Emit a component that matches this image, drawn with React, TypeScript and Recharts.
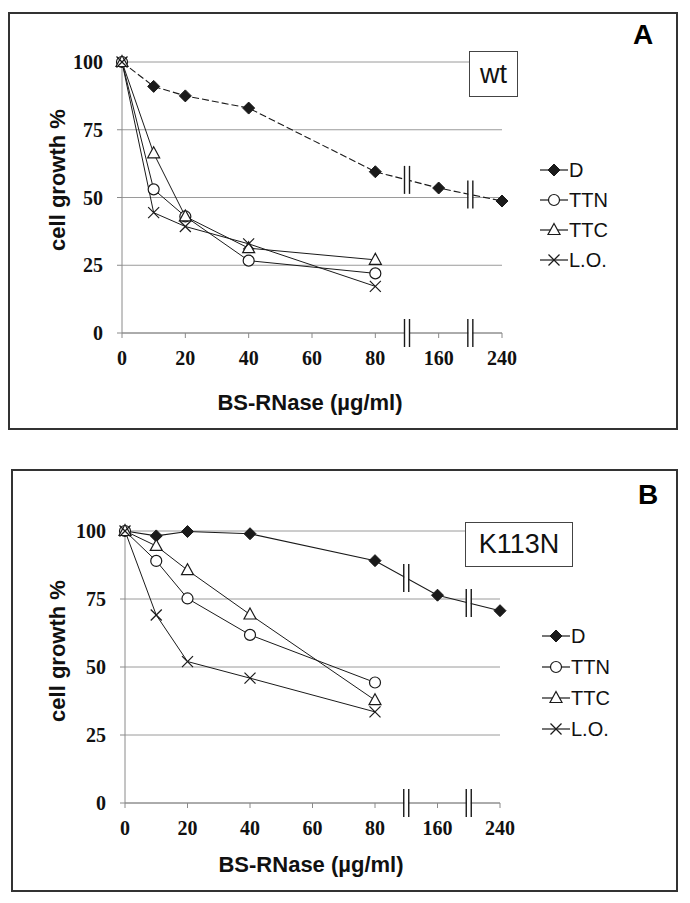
import React from "react";
import { LineChart, Line, XAxis, YAxis, CartesianGrid, ReferenceDot } from "recharts";

// Doses (µg/ml) and tick labels
const doses = [0, 10, 20, 40, 80, 160, 240];
const xTickLabels = ["0", "20", "40", "60", "80", "160", "240"];
const yTicks = [0, 25, 50, 75, 100];

// Panel A (wt)
const dA = [100, 91, 87.5, 83, 59.5, 53.5, 48.7];
const ttnA = [100, 53, 43, 26.7, 22];
const ttcA = [100, 66.3, 43, 31.3, 27];
const loA = [100, 44.4, 39.3, 32.9, 17.2];

// Panel B (K113N)
const dB = [100, 98.2, 99.8, 99, 89.1, 76.4, 70.7];
const ttnB = [100, 89, 75.2, 61.8, 44.3];
const ttcB = [100, 94.5, 85.6, 69.3, 37.8];
const loB = [100, 69.1, 52, 45.9, 33.5];

const seriesNames = ["D", "TTN", "TTC", "L.O."];

// broken axis: 0..80 linear, then 160 and 240 one step each
const toPos = (d: number) => (d <= 80 ? d / 20 : 4 + (d - 80) / 80);

const buildRows = (d: number[], ttn: number[], ttc: number[], lo: number[]) =>
  doses.map((dose, i) => ({
    pos: toPos(dose),
    D: d[i],
    TTN: ttn[i],
    TTC: ttc[i],
    LO: lo[i],
  }));

const INK = "#1a1a1a";

const Marker = ({ kind, cx, cy }: { kind: string; cx: number; cy: number }) => {
  if (cx == null || cy == null || isNaN(cx) || isNaN(cy)) return null;
  if (kind === "D")
    return (
      <polygon
        points={`${cx},${cy - 6} ${cx + 6},${cy} ${cx},${cy + 6} ${cx - 6},${cy}`}
        fill={INK}
        stroke={INK}
      />
    );
  if (kind === "TTN")
    return <circle cx={cx} cy={cy} r={5.5} fill="#fff" stroke={INK} strokeWidth={1.2} />;
  if (kind === "TTC")
    return (
      <polygon
        points={`${cx},${cy - 6.5} ${cx + 6},${cy + 4.5} ${cx - 6},${cy + 4.5}`}
        fill="#fff"
        stroke={INK}
        strokeWidth={1.2}
      />
    );
  return (
    <g stroke={INK} strokeWidth={1.2}>
      <line x1={cx - 5.5} y1={cy - 5.5} x2={cx + 5.5} y2={cy + 5.5} />
      <line x1={cx - 5.5} y1={cy + 5.5} x2={cx + 5.5} y2={cy - 5.5} />
    </g>
  );
};

const dotFor = (kind: string) => (props: any) => (
  <Marker key={`${kind}-${props.index}`} kind={kind} cx={props.cx} cy={props.cy} />
);

const BreakMark = (props: any) => {
  const { cx, cy } = props;
  if (cx == null || cy == null) return null;
  return (
    <g stroke={INK} strokeWidth={1.4}>
      <rect x={cx - 2} y={cy - 14} width={4} height={28} fill="#fff" stroke="none" />
      <line x1={cx - 2.5} y1={cy - 14} x2={cx - 2.5} y2={cy + 14} />
      <line x1={cx + 2.5} y1={cy - 14} x2={cx + 2.5} y2={cy + 14} />
    </g>
  );
};

const tickFont = {
  fontFamily: "'Liberation Serif', 'Times New Roman', serif",
  fontWeight: 700,
  fontSize: 20,
  fill: "#111",
};

type PanelProps = {
  top: number;
  plotTop: number;
  plotBottom: number;
  plotLeft: number;
  plotRight: number;
  d: number[];
  ttn: number[];
  ttc: number[];
  lo: number[];
  dDash?: string;
};

const W = 690;
const H = 450;

const Panel = ({ top, plotTop, plotBottom, plotLeft, plotRight, d, ttn, ttc, lo, dDash }: PanelProps) => {
  const rows = buildRows(d, ttn, ttc, lo);
  const yAxisW = 60;
  const xAxisH = 60;
  const brk1 = (d[4] + d[5]) / 2;
  const brk2 = (d[5] + d[6]) / 2;
  return (
    <div style={{ position: "absolute", left: 0, top, width: W, height: H }}>
      <LineChart
        width={W}
        height={H}
        data={rows}
        margin={{ top: plotTop, right: W - plotRight, left: plotLeft - yAxisW, bottom: H - plotBottom - xAxisH }}
      >
        <CartesianGrid horizontal vertical={false} stroke="#9a9a9a" strokeWidth={1} />
        <XAxis
          type="number"
          dataKey="pos"
          domain={[0, 6]}
          ticks={[0, 1, 2, 3, 4, 5, 6]}
          tickFormatter={(v: number) => xTickLabels[v]}
          height={xAxisH}
          stroke="#8a8a8a"
          tickSize={5}
          tickMargin={13}
          tick={tickFont}
          interval={0}
        />
        <YAxis
          type="number"
          domain={[0, 100]}
          ticks={yTicks}
          width={yAxisW}
          stroke="#8a8a8a"
          tickSize={5}
          tickMargin={14}
          tick={tickFont}
          interval={0}
        />
        <Line
          dataKey="D"
          name="D"
          stroke={INK}
          strokeWidth={1.1}
          strokeDasharray={dDash}
          dot={dotFor("D")}
          isAnimationActive={false}
        />
        <Line dataKey="TTN" name="TTN" stroke={INK} strokeWidth={1} dot={dotFor("TTN")} isAnimationActive={false} />
        <Line dataKey="TTC" name="TTC" stroke={INK} strokeWidth={1} dot={dotFor("TTC")} isAnimationActive={false} />
        <Line dataKey="LO" name="L.O." stroke={INK} strokeWidth={1} dot={dotFor("LO")} isAnimationActive={false} />
        <ReferenceDot x={4.5} y={brk1} shape={BreakMark} ifOverflow="visible" />
        <ReferenceDot x={5.5} y={brk2} shape={BreakMark} ifOverflow="visible" />
        <ReferenceDot x={4.5} y={0} shape={BreakMark} ifOverflow="visible" />
        <ReferenceDot x={5.5} y={0} shape={BreakMark} ifOverflow="visible" />
      </LineChart>
    </div>
  );
};

const Legend = ({ left, top, gap }: { left: number; top: number; gap: number }) => (
  <div style={{ position: "absolute", left, top }}>
    {seriesNames.map((name, i) => {
      const kind = name === "L.O." ? "LO" : name;
      return (
        <div
          key={name}
          style={{
            position: "absolute",
            left: 0,
            top: i * gap - 12,
            height: 24,
            display: "flex",
            alignItems: "center",
            whiteSpace: "nowrap",
          }}
        >
          <svg width={28} height={24}>
            <line x1={0} y1={12} x2={28} y2={12} stroke={INK} strokeWidth={1.2} />
            <Marker kind={kind} cx={14} cy={12} />
          </svg>
          <span
            style={{
              fontFamily: "'Liberation Sans', Arial, sans-serif",
              fontSize: 20,
              color: "#111",
              marginLeft: 1,
              lineHeight: "24px",
            }}
          >
            {name}
          </span>
        </div>
      );
    })}
  </div>
);

const sans = "'Liberation Sans', Arial, sans-serif";

const YLabel = ({ cx, cy }: { cx: number; cy: number }) => (
  <div
    style={{
      position: "absolute",
      left: cx,
      top: cy,
      transform: "translate(-50%, -50%) rotate(-90deg)",
      fontFamily: sans,
      fontWeight: 700,
      fontSize: 22,
      color: "#111",
      whiteSpace: "nowrap",
      lineHeight: "24px",
    }}
  >
    cell growth %
  </div>
);

const XLabel = ({ cx, cy }: { cx: number; cy: number }) => (
  <div
    style={{
      position: "absolute",
      left: cx,
      top: cy,
      transform: "translate(-50%, -50%)",
      fontFamily: sans,
      fontWeight: 700,
      fontSize: 22,
      color: "#111",
      whiteSpace: "nowrap",
      lineHeight: "24px",
    }}
  >
    BS-RNase (µg/ml)
  </div>
);

const TagBox = ({ left, top, width, height, text }: any) => (
  <div
    style={{
      position: "absolute",
      left,
      top,
      width,
      height,
      boxSizing: "border-box",
      border: "1.5px solid #444",
      background: "#fff",
      display: "flex",
      alignItems: "center",
      justifyContent: "center",
      fontFamily: sans,
      fontSize: 27,
      color: "#111",
    }}
  >
    {text}
  </div>
);

const PanelLetter = ({ left, top, text }: any) => (
  <div
    style={{
      position: "absolute",
      left,
      top,
      fontFamily: sans,
      fontWeight: 700,
      fontSize: 28,
      lineHeight: "28px",
      color: "#000",
    }}
  >
    {text}
  </div>
);

export default function App() {
  return (
    <div style={{ position: "absolute", left: 0, top: 0, width: 690, height: 903, background: "#fff", overflow: "hidden" }}>
      <div
        style={{
          position: "absolute",
          left: 8,
          top: 12,
          width: 670,
          height: 418,
          boxSizing: "border-box",
          border: "2px solid #333",
        }}
      />
      <div
        style={{
          position: "absolute",
          left: 11,
          top: 469,
          width: 667,
          height: 423,
          boxSizing: "border-box",
          border: "2px solid #333",
        }}
      />
      <Panel top={0} plotTop={62} plotBottom={333} plotLeft={122} plotRight={502} d={dA} ttn={ttnA} ttc={ttcA} lo={loA} dDash="7 3" />
      <Panel top={460} plotTop={71} plotBottom={343} plotLeft={125} plotRight={500} d={dB} ttn={ttnB} ttc={ttcB} lo={loB} />
      <TagBox left={469} top={51} width={49} height={46} text="wt" />
      <TagBox left={465} top={522} width={108} height={45} text="K113N" />
      <PanelLetter left={633} top={21} text="A" />
      <PanelLetter left={638} top={481} text="B" />
      <YLabel cx={58} cy={180} />
      <YLabel cx={58} cy={651} />
      <XLabel cx={310} cy={403} />
      <XLabel cx={311} cy={865} />
      <Legend left={540} top={170} gap={30} />
      <Legend left={542} top={636} gap={31} />
    </div>
  );
}
